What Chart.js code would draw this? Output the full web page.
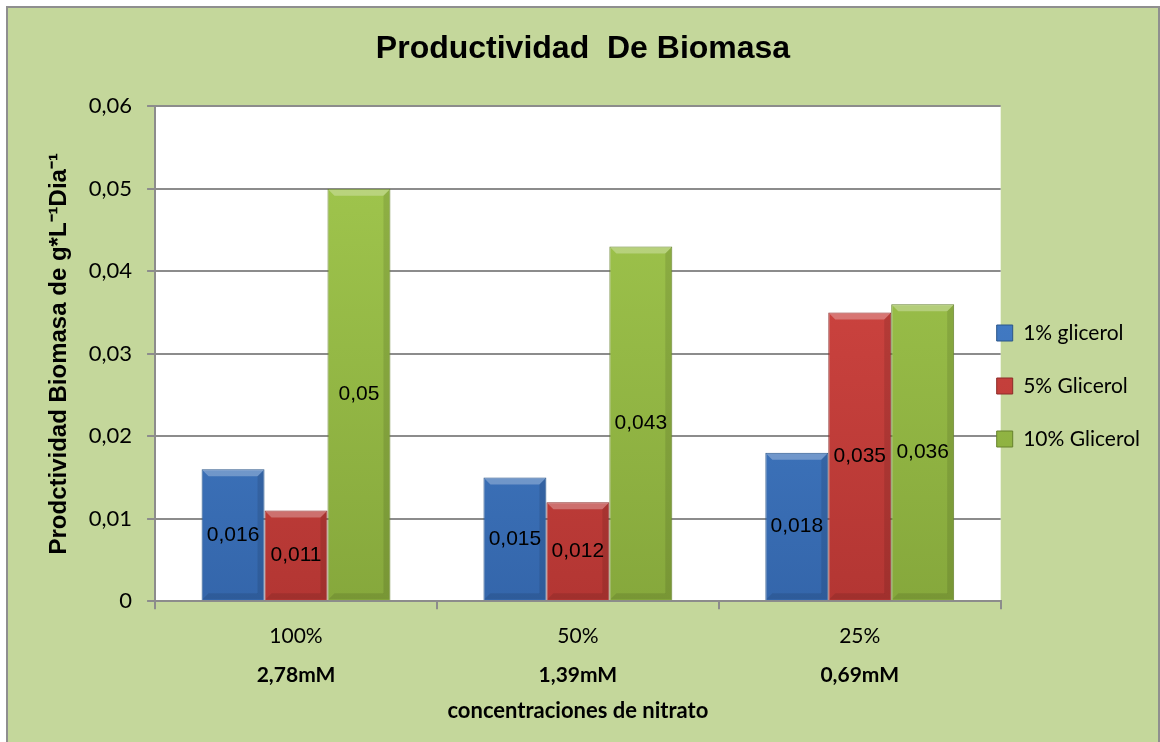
<!DOCTYPE html>
<html>
  <head>
    <title>Productividad De Biomasa</title>
    <script src="https://cdn.jsdelivr.net/npm/chart.js"></script>
    <style>
      body { margin: 0; background: #ffffff; overflow: hidden; }
      #frame {
        position: absolute; left: 6px; top: 6px;
        width: 1150px; height: 734px;
        border: 2px solid #8f8f8f; border-bottom: none;
        background: #c4d79b;
      }
    </style>
  </head>
  <body>
    <div id="frame"><canvas id="biomasa-chart" width="1150" height="734"></canvas></div>

    <script>
      // categories (two label rows under each group)
      const percentLabels = ['100%', '50%', '25%'];
      const nitrateLabels = ['2,78mM', '1,39mM', '0,69mM'];

      // series values
      const glicerol1 = [0.016, 0.015, 0.018];
      const glicerol5 = [0.011, 0.012, 0.035];
      const glicerol10 = [0.05, 0.043, 0.036];

      // y ticks
      const yTicks = [0, 0.01, 0.02, 0.03, 0.04, 0.05, 0.06];

      const commaNum = v => (v === 0 ? '0' : String(+v.toFixed(3)).replace('.', ','));

      // vertical gradient for the bars, from light to dark
      const barFill = (light, dark) => (context) => {
        const area = context.chart.chartArea;
        if (!area) return dark;
        const g = context.chart.ctx.createLinearGradient(0, area.top, 0, area.bottom);
        g.addColorStop(0, light);
        g.addColorStop(1, dark);
        return g;
      };

      // soft bevel on the bars, then the values in the middle of each bar
      const barValues = {
        id: 'barValues',
        afterDatasetsDraw(chart) {
          const ctx = chart.ctx;
          const b = 6;
          ctx.save();
          chart.data.datasets.forEach((ds, i) => {
            chart.getDatasetMeta(i).data.forEach((bar) => {
              const l = bar.x - bar.width / 2 + 1, r = bar.x + bar.width / 2 - 1;
              const t = bar.y + 1, btm = bar.base - 1;
              ctx.fillStyle = 'rgba(255,255,255,0.28)';
              ctx.beginPath();
              ctx.moveTo(l, t); ctx.lineTo(r, t); ctx.lineTo(r - b, t + b); ctx.lineTo(l + b, t + b);
              ctx.closePath(); ctx.fill();
              ctx.fillStyle = 'rgba(0,0,0,0.10)';
              ctx.beginPath();
              ctx.moveTo(r, t); ctx.lineTo(r, btm); ctx.lineTo(r - b, btm - b); ctx.lineTo(r - b, t + b);
              ctx.closePath(); ctx.fill();
              ctx.beginPath();
              ctx.moveTo(l, btm); ctx.lineTo(r, btm); ctx.lineTo(r - b, btm - b); ctx.lineTo(l + b, btm - b);
              ctx.closePath(); ctx.fill();
            });
          });
          ctx.font = '21px "Liberation Sans", Arial, sans-serif';
          ctx.fillStyle = '#000000';
          ctx.textAlign = 'center';
          ctx.textBaseline = 'middle';
          chart.data.datasets.forEach((ds, i) => {
            chart.getDatasetMeta(i).data.forEach((bar, j) => {
              ctx.fillText(commaNum(ds.data[j]), bar.x, (bar.y + bar.base) / 2);
            });
          });
          ctx.restore();
        }
      };

      // white plot area
      const plotBackground = {
        id: 'plotBackground',
        beforeDraw(chart) {
          const { ctx, chartArea } = chart;
          ctx.save();
          ctx.fillStyle = '#ffffff';
          ctx.fillRect(chartArea.left, chartArea.top, chartArea.width, chartArea.height);
          ctx.restore();
        }
      };

      // legend sits right against the plot edge; title centred on the canvas
      const boxPlace = {
        id: 'boxPlace',
        afterLayout(chart) {
          const lg = chart.legend;
          const w = lg.width, h = lg.height;
          lg.left = chart.chartArea.right - 4 - lg.options.labels.padding;
          lg.right = lg.left + w;
          lg.top += 18;
          lg.bottom = lg.top + h;
          const tb = chart.titleBlock;
          tb.left = 0;
          tb.right = chart.width;
        }
      };

      const tickFont = { family: 'Lato, "Open Sans", sans-serif', size: 21 };

      new Chart(document.getElementById('biomasa-chart'), {
        type: 'bar',
        data: {
          labels: percentLabels,
          datasets: [
            {
              label: '1% glicerol',
              data: glicerol1,
              backgroundColor: barFill('#4b88d4', '#3466ab'),
              borderColor: '#2a5689',
              borderWidth: 1,
            },
            {
              label: '5% Glicerol',
              data: glicerol5,
              backgroundColor: barFill('#d94a45', '#b33633'),
              borderColor: '#8c2b28',
              borderWidth: 1,
            },
            {
              label: '10% Glicerol',
              data: glicerol10,
              backgroundColor: barFill('#a3c94f', '#86a83c'),
              borderColor: '#66822d',
              borderWidth: 1,
            },
          ],
        },
        options: {
          responsive: false,
          animation: false,
          layout: { padding: { left: 37, right: -28, top: 4, bottom: 18 } },
          datasets: {
            bar: { barPercentage: 1, categoryPercentage: 0.67 },
          },
          plugins: {
            title: {
              display: true,
              text: 'Productividad  De Biomasa',
              color: '#000000',
              font: { family: '"Liberation Sans", Arial, sans-serif', size: 32, weight: 'bold' },
              padding: { top: 18, bottom: 38 },
            },
            legend: {
              position: 'right',
              labels: {
                color: '#000000',
                font: tickFont,
                boxWidth: 16,
                boxHeight: 16,
                padding: 32,
              },
            },
            tooltip: { enabled: false },
          },
          scales: {
            x: {
              position: 'bottom',
              grid: {
                offset: true,
                drawOnChartArea: false,
                drawTicks: true,
                tickLength: 8,
                color: '#8c8c8c',
                lineWidth: 2,
              },
              border: { color: '#8c8c8c', width: 2 },
              ticks: { color: '#000000', font: tickFont, padding: 14 },
            },
            x2: {
              type: 'category',
              labels: nitrateLabels,
              position: 'bottom',
              grid: { display: false, drawTicks: false },
              border: { display: false },
              ticks: {
                color: '#000000',
                font: { family: 'Lato, "Open Sans", sans-serif', size: 21, weight: 'bold' },
                padding: 0,
              },
              title: {
                display: true,
                text: 'concentraciones de nitrato',
                color: '#000000',
                font: { family: 'Lato, "Open Sans", sans-serif', size: 22, weight: 'bold' },
                padding: { top: 10, bottom: 0 },
              },
            },
            y: {
              min: yTicks[0],
              max: yTicks[yTicks.length - 1],
              afterBuildTicks(scale) {
                scale.ticks = yTicks.map(v => ({ value: v }));
              },
              grid: { color: '#8c8c8c', lineWidth: 2, tickLength: 8 },
              border: { color: '#8c8c8c', width: 2 },
              ticks: {
                color: '#000000',
                font: { family: 'Lato, "Open Sans", sans-serif', size: 22 },
                padding: 15,
                callback: (v) => commaNum(v),
              },
              title: {
                display: true,
                text: 'Prodctividad Biomasa de g*L\u207B\u00B9Dia\u207B\u00B9',
                color: '#000000',
                font: { family: '"Liberation Sans", Arial, sans-serif', size: 24, weight: 'bold' },
                padding: { top: 0, bottom: 0 },
              },
            },
          },
        },
        plugins: [plotBackground, barValues, boxPlace],
      });
    </script>
  </body>
</html>
